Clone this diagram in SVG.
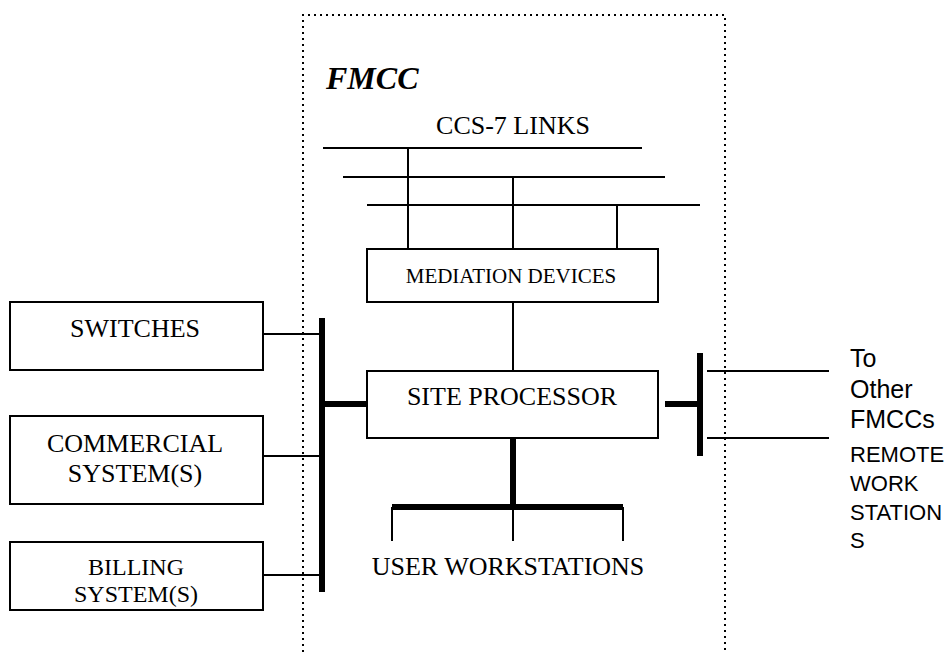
<svg xmlns="http://www.w3.org/2000/svg" width="952" height="652" viewBox="0 0 952 652">
<style>
.box{fill:#fff;stroke:#000;stroke-width:2}
.thin{stroke:#000;stroke-width:2;fill:none}
.thick{stroke:#000;stroke-width:6;fill:none}
.dot{stroke:#000;stroke-width:2;fill:none;stroke-dasharray:2 4}
.t{font-family:"Liberation Serif","Times New Roman",serif;fill:#000;text-anchor:middle}
.s{font-family:"Liberation Sans",Arial,sans-serif;fill:#000}
</style>
<rect width="952" height="652" fill="#fff"/>
<path id="fmcc-boundary" class="dot" d="M303,652 V15 H725 V652"/>
<text x="326" y="89" font-family="Liberation Serif, serif" font-weight="bold" font-style="italic" font-size="32">FMCC</text>
<g id="connectors">
  <path class="thin" d="M323,148 H642 M343,177 H665 M367,205 H700"/>
  <path class="thin" d="M408,148 V249 M513,177 V249 M617,205 V249"/>
  <path class="thin" d="M513,302 V371"/>
  <path class="thick" d="M322,318 V592"/>
  <path class="thin" d="M263,334 H322 M263,456 H322 M263,575 H322"/>
  <path class="thick" d="M322,404 H367"/>
  <path class="thick" d="M665,404 H700 M700,353 V456"/>
  <path class="thin" d="M707,371 H829 M707,438 H829"/>
  <path class="thick" d="M513,438 V507 M392,507 H623"/>
  <path class="thin" d="M392,507 V541 M513,507 V541 M623,507 V541"/>
</g>
<g id="ccs7"><text class="t" x="513" y="134" font-size="26">CCS-7 LINKS</text></g>
<g id="mediation">
  <rect class="box" x="367" y="249" width="291" height="53"/>
  <text class="t" x="511" y="283" font-size="21">MEDIATION DEVICES</text>
</g>
<g id="site-processor">
  <rect class="box" x="367" y="371" width="291" height="67"/>
  <text class="t" x="512" y="405" font-size="26">SITE PROCESSOR</text>
</g>
<g id="switches">
  <rect class="box" x="10" y="302" width="253" height="68"/>
  <text class="t" x="135" y="337" font-size="26">SWITCHES</text>
</g>
<g id="commercial">
  <rect class="box" x="10" y="416" width="253" height="88"/>
  <text class="t" x="135" y="452" font-size="26">COMMERCIAL</text>
  <text class="t" x="135" y="482" font-size="26">SYSTEM(S)</text>
</g>
<g id="billing">
  <rect class="box" x="10" y="542" width="253" height="68"/>
  <text class="t" x="136" y="575" font-size="24">BILLING</text>
  <text class="t" x="136" y="602" font-size="24">SYSTEM(S)</text>
</g>
<g id="user-workstations"><text class="t" x="508" y="575" font-size="26">USER WORKSTATIONS</text></g>
<g id="other-fmccs">
  <text class="s" x="850" y="367" font-size="25">To</text>
  <text class="s" x="850" y="398" font-size="25">Other</text>
  <text class="s" x="850" y="428" font-size="25">FMCCs</text>
</g>
<g id="remote-workstations">
  <text class="s" x="850" y="462" font-size="22">REMOTE</text>
  <text class="s" x="850" y="491" font-size="22">WORK</text>
  <text class="s" x="850" y="520" font-size="22">STATION</text>
  <text class="s" x="850" y="548" font-size="22">S</text>
</g>
</svg>
